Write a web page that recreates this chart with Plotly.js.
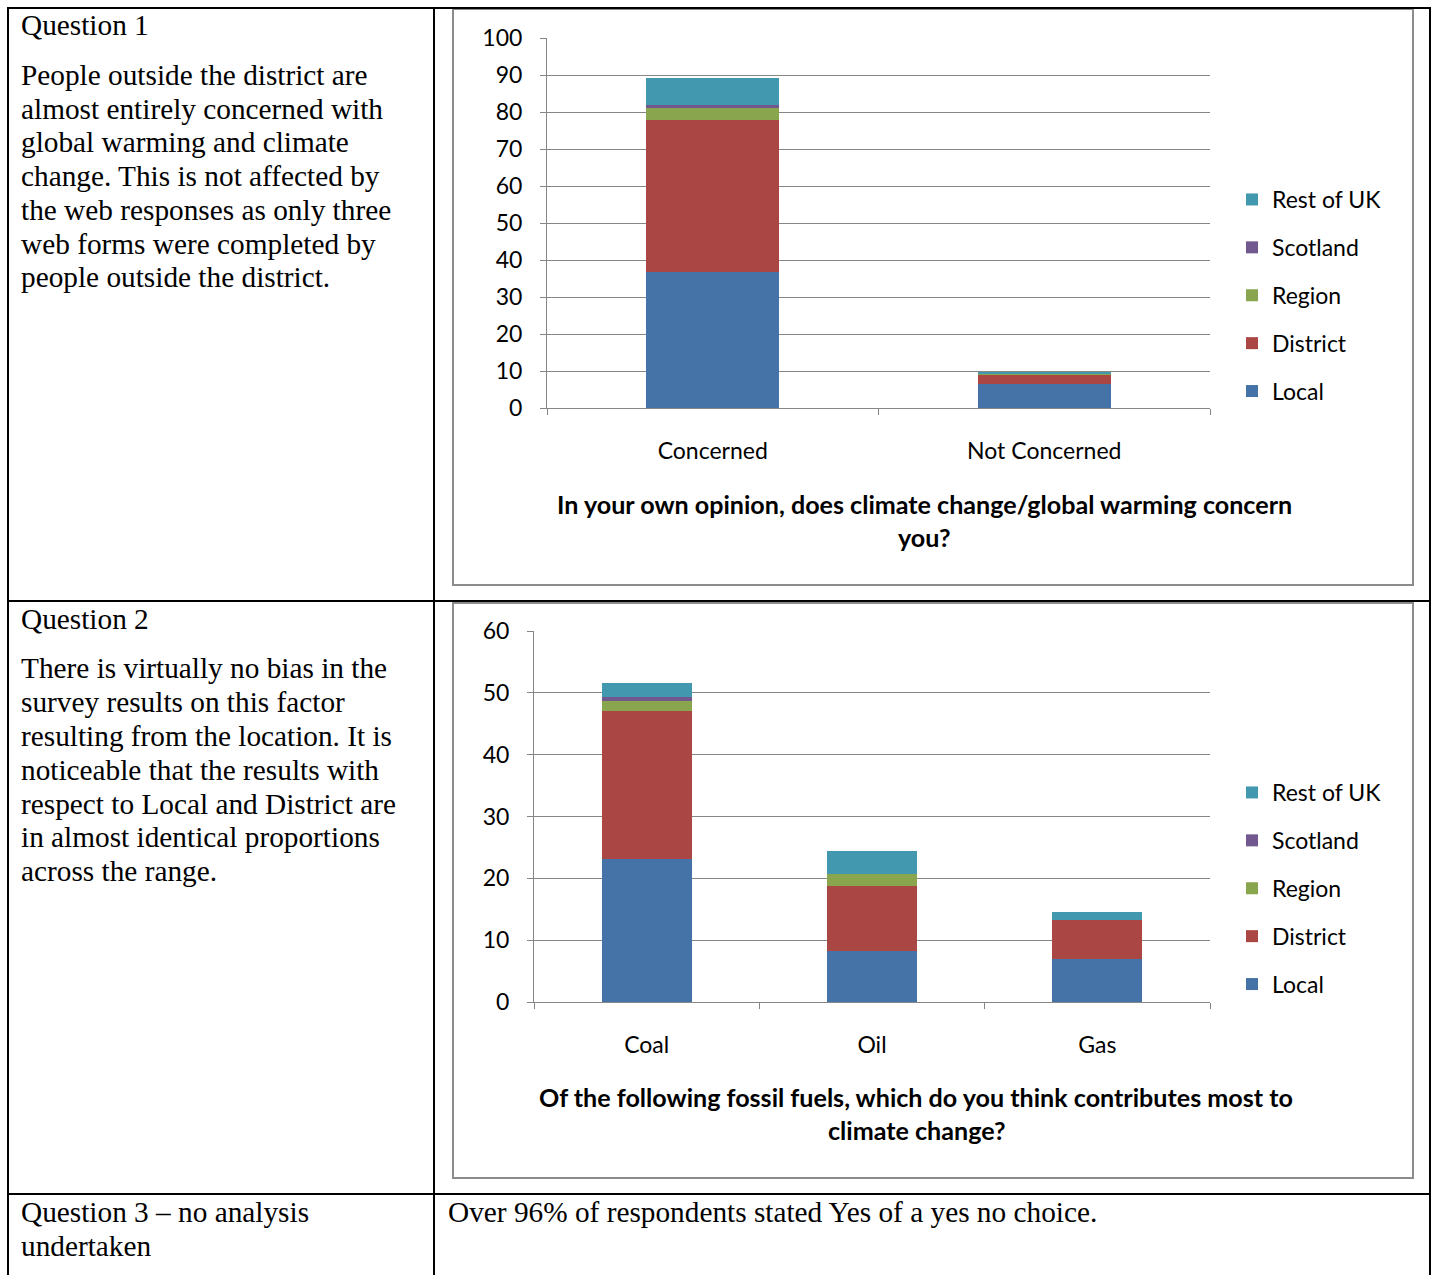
<!DOCTYPE html>
<html>
<head>
<meta charset="utf-8">
<script src="https://cdn.plot.ly/plotly-3.0.1.min.js"></script>
<style>
  html, body { margin: 0; padding: 0; background: #fff; }
  #chart { width: 1436px; height: 1275px; }
</style>
</head>
<body>
<div id="chart"></div>
<script>
// ---------- DATA ----------
const seriesNames = ['Local', 'District', 'Region', 'Scotland', 'Rest of UK'];
const seriesColors = ['#4572A7', '#AA4643', '#89A54E', '#71588F', '#4198AF'];

const q1Categories = ['Concerned', 'Not Concerned'];
const q1Local     = [36.8, 6.6];
const q1District  = [41.1, 2.3];
const q1Region    = [3.3, 0.4];
const q1Scotland  = [0.7, 0];
const q1RestOfUK  = [7.2, 0.3];

const q2Categories = ['Coal', 'Oil', 'Gas'];
const q2Local     = [23.2, 8.3, 7.0];
const q2District  = [23.9, 10.4, 6.3];
const q2Region    = [1.6, 2.0, 0];
const q2Scotland  = [0.7, 0, 0];
const q2RestOfUK  = [2.2, 3.8, 1.3];

const q1Title = ['In your own opinion, does climate change/global warming concern', 'you?'];
const q2Title = ['Of the following fossil fuels, which do you think contributes most to', 'climate change?'];

const q1Heading = 'Question 1';
const q1Text = ['People outside the district are', 'almost entirely concerned with', 'global warming and climate',
  'change. This is not affected by', 'the web responses as only three', 'web forms were completed by',
  'people outside the district.'];
const q2Heading = 'Question 2';
const q2Text = ['There is virtually no bias in the', 'survey results on this factor', 'resulting from the location. It is',
  'noticeable that the results with', 'respect to Local and District are', 'in almost identical proportions',
  'across the range.'];
const q3Text = ['Question 3 \u2013 no analysis', 'undertaken'];
const q3Answer = 'Over 96% of respondents stated Yes of a yes no choice.';

// ---------- LAYOUT HELPERS ----------
const W = 1436, H = 1275;
const px = x => x / W;
const py = y => 1 - y / H;
const GRAY = '#868686';
const SANS = 'Lato, "Open Sans", sans-serif';
const SERIF = '"Liberation Serif", "DejaVu Serif", serif';

const q1Series = [q1Local, q1District, q1Region, q1Scotland, q1RestOfUK];
const q2Series = [q2Local, q2District, q2Region, q2Scotland, q2RestOfUK];

const traces = [];
seriesNames.forEach((name, i) => {
  traces.push({
    type: 'bar', name: name, x: q1Categories, y: q1Series[i],
    xaxis: 'x', yaxis: 'y', marker: { color: seriesColors[i], line: { width: 0 } },
    legend: 'legend', legendgroup: 'q1' + name, legendrank: 10 - i, hoverinfo: 'skip'
  });
});
seriesNames.forEach((name, i) => {
  traces.push({
    type: 'bar', name: name, x: q2Categories, y: q2Series[i],
    xaxis: 'x2', yaxis: 'y2', marker: { color: seriesColors[i], line: { width: 0 } },
    legend: 'legend2', legendgroup: 'q2' + name, legendrank: 10 - i, hoverinfo: 'skip'
  });
});

const tickFont = { family: SANS, size: 23, color: '#000' };

function xAxis(domain, anchor) {
  return {
    domain: domain, anchor: anchor, type: 'category',
    showline: true, linecolor: GRAY, linewidth: 1,
    ticks: 'outside', tickson: 'boundaries', ticklen: 6, tickcolor: GRAY, tickwidth: 1,
    showgrid: false, zeroline: false, tickfont: tickFont, ticklabelstandoff: 22,
    fixedrange: true
  };
}
function yAxis(domain, anchor, range, dtick) {
  return {
    domain: domain, anchor: anchor, range: range, dtick: dtick,
    showline: true, linecolor: GRAY, linewidth: 1,
    ticks: 'outside', ticklen: 6, tickcolor: GRAY, tickwidth: 1,
    showgrid: true, gridcolor: GRAY, gridwidth: 1, zeroline: false,
    tickfont: tickFont, ticklabelstandoff: 13, fixedrange: true
  };
}

const legendBase = {
  xanchor: 'left', yanchor: 'top', font: { family: SANS, size: 23, color: '#000' },
  traceorder: 'grouped', tracegroupgap: 15, bgcolor: 'rgba(0,0,0,0)', borderwidth: 0
};

const lineShape = (x0, y0, x1, y1, color, width) => ({
  type: 'line', xref: 'paper', yref: 'paper', x0: px(x0), y0: py(y0), x1: px(x1), y1: py(y1),
  line: { color: color, width: width }
});
const rectShape = (x0, y0, x1, y1, color, width) => ({
  type: 'rect', xref: 'paper', yref: 'paper', x0: px(x0), y0: py(y0), x1: px(x1), y1: py(y1),
  line: { color: color, width: width }, fillcolor: 'rgba(0,0,0,0)', layer: 'below'
});

const shapes = [
  // table grid
  lineShape(7, 8, 1431, 8, '#000', 2),
  lineShape(7, 601, 1431, 601, '#000', 2),
  lineShape(7, 1194, 1431, 1194, '#000', 2),
  lineShape(8, 7, 8, 1275, '#000', 2),
  lineShape(434, 7, 434, 1275, '#000', 2),
  lineShape(1430, 7, 1430, 1275, '#000', 2),
  // chart frames
  rectShape(453, 9, 1413, 585, '#8c8c8c', 2),
  rectShape(453, 603, 1413, 1178, '#8c8c8c', 2)
];

const serifFont = { family: SERIF, size: 29.3, color: '#000' };
const ann = (text, x, y, opts) => Object.assign({
  text: text, xref: 'paper', yref: 'paper', x: px(x), y: py(y), showarrow: false,
  xanchor: 'left', yanchor: 'middle', align: 'left', font: serifFont
}, opts || {});

const titleFont = { family: SANS, size: 25.1, color: '#000' };
const annotations = [
  ann(q1Heading, 19, 25),
  ann(q2Heading, 19, 619),
  ann(q3Answer, 446, 1212)
];
const q1Lines = [75, 109, 142, 176, 210, 244, 277];
q1Text.forEach((t, i) => annotations.push(ann(t, 19, q1Lines[i])));
const q2Lines = [668, 702, 736, 770, 804, 837, 871];
q2Text.forEach((t, i) => annotations.push(ann(t, 19, q2Lines[i])));
const q3Lines = [1212, 1246];
q3Text.forEach((t, i) => annotations.push(ann(t, 19, q3Lines[i])));

annotations.push(
  ann('<b>' + q1Title[0] + '</b>', 924, 504, { xanchor: 'center', align: 'center', font: titleFont }),
  ann('<b>' + q1Title[1] + '</b>', 924, 537, { xanchor: 'center', align: 'center', font: titleFont }),
  ann('<b>' + q2Title[0] + '</b>', 916, 1097, { xanchor: 'center', align: 'center', font: titleFont }),
  ann('<b>' + q2Title[1] + '</b>', 916, 1130, { xanchor: 'center', align: 'center', font: titleFont })
);

const layout = {
  width: W, height: H,
  margin: { l: 0, r: 0, t: 0, b: 0, pad: 0 },
  paper_bgcolor: '#fff', plot_bgcolor: '#fff',
  barmode: 'stack', bargap: 0.6,
  showlegend: true,
  xaxis: xAxis([px(547), px(1210)], 'y'),
  yaxis: yAxis([py(408), py(38)], 'x', [0, 100], 10),
  xaxis2: xAxis([px(534), px(1210)], 'y2'),
  yaxis2: yAxis([py(1002), py(631)], 'x2', [0, 60], 10),
  legend: Object.assign({ x: px(1232), y: py(178) }, legendBase),
  legend2: Object.assign({ x: px(1232), y: py(771) }, legendBase),
  shapes: shapes,
  annotations: annotations,
  font: { family: SANS }
};

Plotly.newPlot('chart', traces, layout, { displayModeBar: false, staticPlot: true });
</script>
</body>
</html>
